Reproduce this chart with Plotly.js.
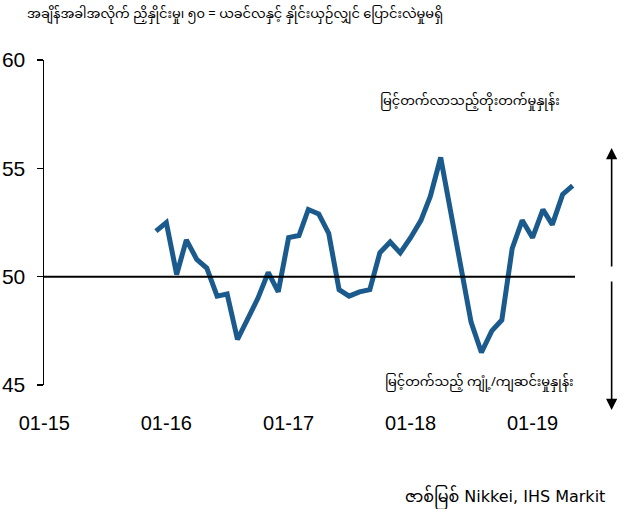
<!DOCTYPE html>
<html>
<head>
<meta charset="utf-8">
<script src="https://cdn.plot.ly/plotly-3.0.1.min.js"></script>
<style>
html,body{margin:0;padding:0;background:#fff;}
#chart{width:635px;height:509px;}
</style>
</head>
<body>
<div id="chart"></div>
<script>
const months = [
  '2015-12-01',
  '2016-01-01','2016-02-01','2016-03-01','2016-04-01','2016-05-01','2016-06-01',
  '2016-07-01','2016-08-01','2016-09-01','2016-10-01','2016-11-01','2016-12-01',
  '2017-01-01','2017-02-01','2017-03-01','2017-04-01','2017-05-01','2017-06-01',
  '2017-07-01','2017-08-01','2017-09-01','2017-10-01','2017-11-01','2017-12-01',
  '2018-01-01','2018-02-01','2018-03-01','2018-04-01','2018-05-01','2018-06-01',
  '2018-07-01','2018-08-01','2018-09-01','2018-10-01','2018-11-01','2018-12-01',
  '2019-01-01','2019-02-01','2019-03-01','2019-04-01','2019-05-01'
];
const pmi = [
  52.1,
  52.5, 50.1, 51.7, 50.8, 50.4, 49.1,
  49.2, 47.1, 48.1, 49.0, 50.2, 49.3,
  51.8, 51.9, 53.1, 52.9, 52.0, 49.4,
  49.1, 49.3, 49.4, 51.1, 51.6, 51.1,
  51.8, 52.6, 53.7, 55.5, 53.0, 50.4,
  47.9, 46.5, 47.5, 48.0, 51.3, 52.6,
  51.8, 53.1, 52.4, 53.8, 54.2
];
const xTickVals = ['2015-01-01','2016-01-01','2017-01-01','2018-01-01','2019-01-01'];
const xTickText = ['01-15','01-16','01-17','01-18','01-19'];
const yTickVals = [45, 50, 55, 60];
const yTickText = ['45', '50', '55', '60'];

const titleText = 'အချိန်အခါအလိုက် ညှိနှိုင်းမှု၊ ၅၀ = ယခင်လနှင့် နှိုင်းယှဉ်လျှင် ပြောင်းလဲမှုမရှိ';
const upText = 'မြင့်တက်လာသည့်တိုးတက်မှုနှုန်း';
const downText = 'မြင့်တက်သည့် ကျုံ့/ကျဆင်းမှုနှုန်း';
const sourceText = 'ဇာစ်မြစ် Nikkei, IHS Markit';

const mmFont = 'Noto Sans Myanmar, Padauk, Myanmar Text, DejaVu Sans, sans-serif';
const numFont = 'Liberation Sans, Arial, sans-serif';

const trace = {
  x: months, y: pmi, type: 'scatter', mode: 'lines',
  line: {color: '#1b5a8c', width: 5},
  hoverinfo: 'skip'
};

const layout = {
  width: 635, height: 509,
  margin: {l: 44, r: 60, t: 60, b: 124},
  paper_bgcolor: '#ffffff', plot_bgcolor: '#ffffff',
  showlegend: false,
  xaxis: {
    type: 'date',
    range: ['2014-12-31', '2019-05-08'],
    tickmode: 'array', tickvals: xTickVals, ticktext: xTickText,
    showgrid: false, zeroline: false, showline: false,
    ticks: '', ticklabelstandoff: 24,
    tickfont: {family: numFont, size: 20, color: '#000'}
  },
  yaxis: {
    range: [45, 60],
    tickmode: 'array', tickvals: yTickVals, ticktext: yTickText,
    showgrid: false, zeroline: false,
    showline: true, linecolor: '#000', linewidth: 1.5,
    ticks: 'outside', ticklen: 6, tickwidth: 1.5, tickcolor: '#000',
    ticklabelstandoff: 7,
    tickfont: {family: numFont, size: 21, color: '#000'}
  },
  shapes: [
    {type: 'line', xref: 'paper', yref: 'y', x0: 0, x1: 1, y0: 50, y1: 50,
     line: {color: '#000', width: 2}}
  ],
  annotations: [
    {text: titleText, xref: 'paper', yref: 'paper', x: -0.036, y: 1.138,
     xanchor: 'left', yanchor: 'middle', showarrow: false,
     font: {family: mmFont, size: 13, color: '#000'}},
    {text: upText, xref: 'paper', yref: 'paper', x: 0.629, y: 0.871,
     xanchor: 'left', yanchor: 'middle', showarrow: false,
     font: {family: mmFont, size: 13, color: '#000'}},
    {text: downText, xref: 'paper', yref: 'paper', x: 0.638, y: 0.006,
     xanchor: 'left', yanchor: 'middle', showarrow: false,
     font: {family: mmFont, size: 13, color: '#000'}},
    {text: sourceText, xref: 'paper', yref: 'paper', x: 1.06, y: -0.347,
     xanchor: 'right', yanchor: 'middle', showarrow: false,
     font: {family: 'DejaVu Sans, ' + mmFont, size: 16, color: '#000'}},
    {text: '', xref: 'paper', yref: 'paper', x: 1.069, y: 0.729,
     axref: 'pixel', ayref: 'pixel', ax: 0, ay: 120,
     showarrow: true, arrowhead: 2, arrowsize: 1.4, arrowwidth: 1.6, arrowcolor: '#000'},
    {text: '', xref: 'paper', yref: 'paper', x: 1.069, y: -0.077,
     axref: 'pixel', ayref: 'pixel', ax: 0, ay: -130,
     showarrow: true, arrowhead: 2, arrowsize: 1.4, arrowwidth: 1.6, arrowcolor: '#000'}
  ]
};

Plotly.newPlot('chart', [trace], layout, {displayModeBar: false, staticPlot: true});
</script>
</body>
</html>
